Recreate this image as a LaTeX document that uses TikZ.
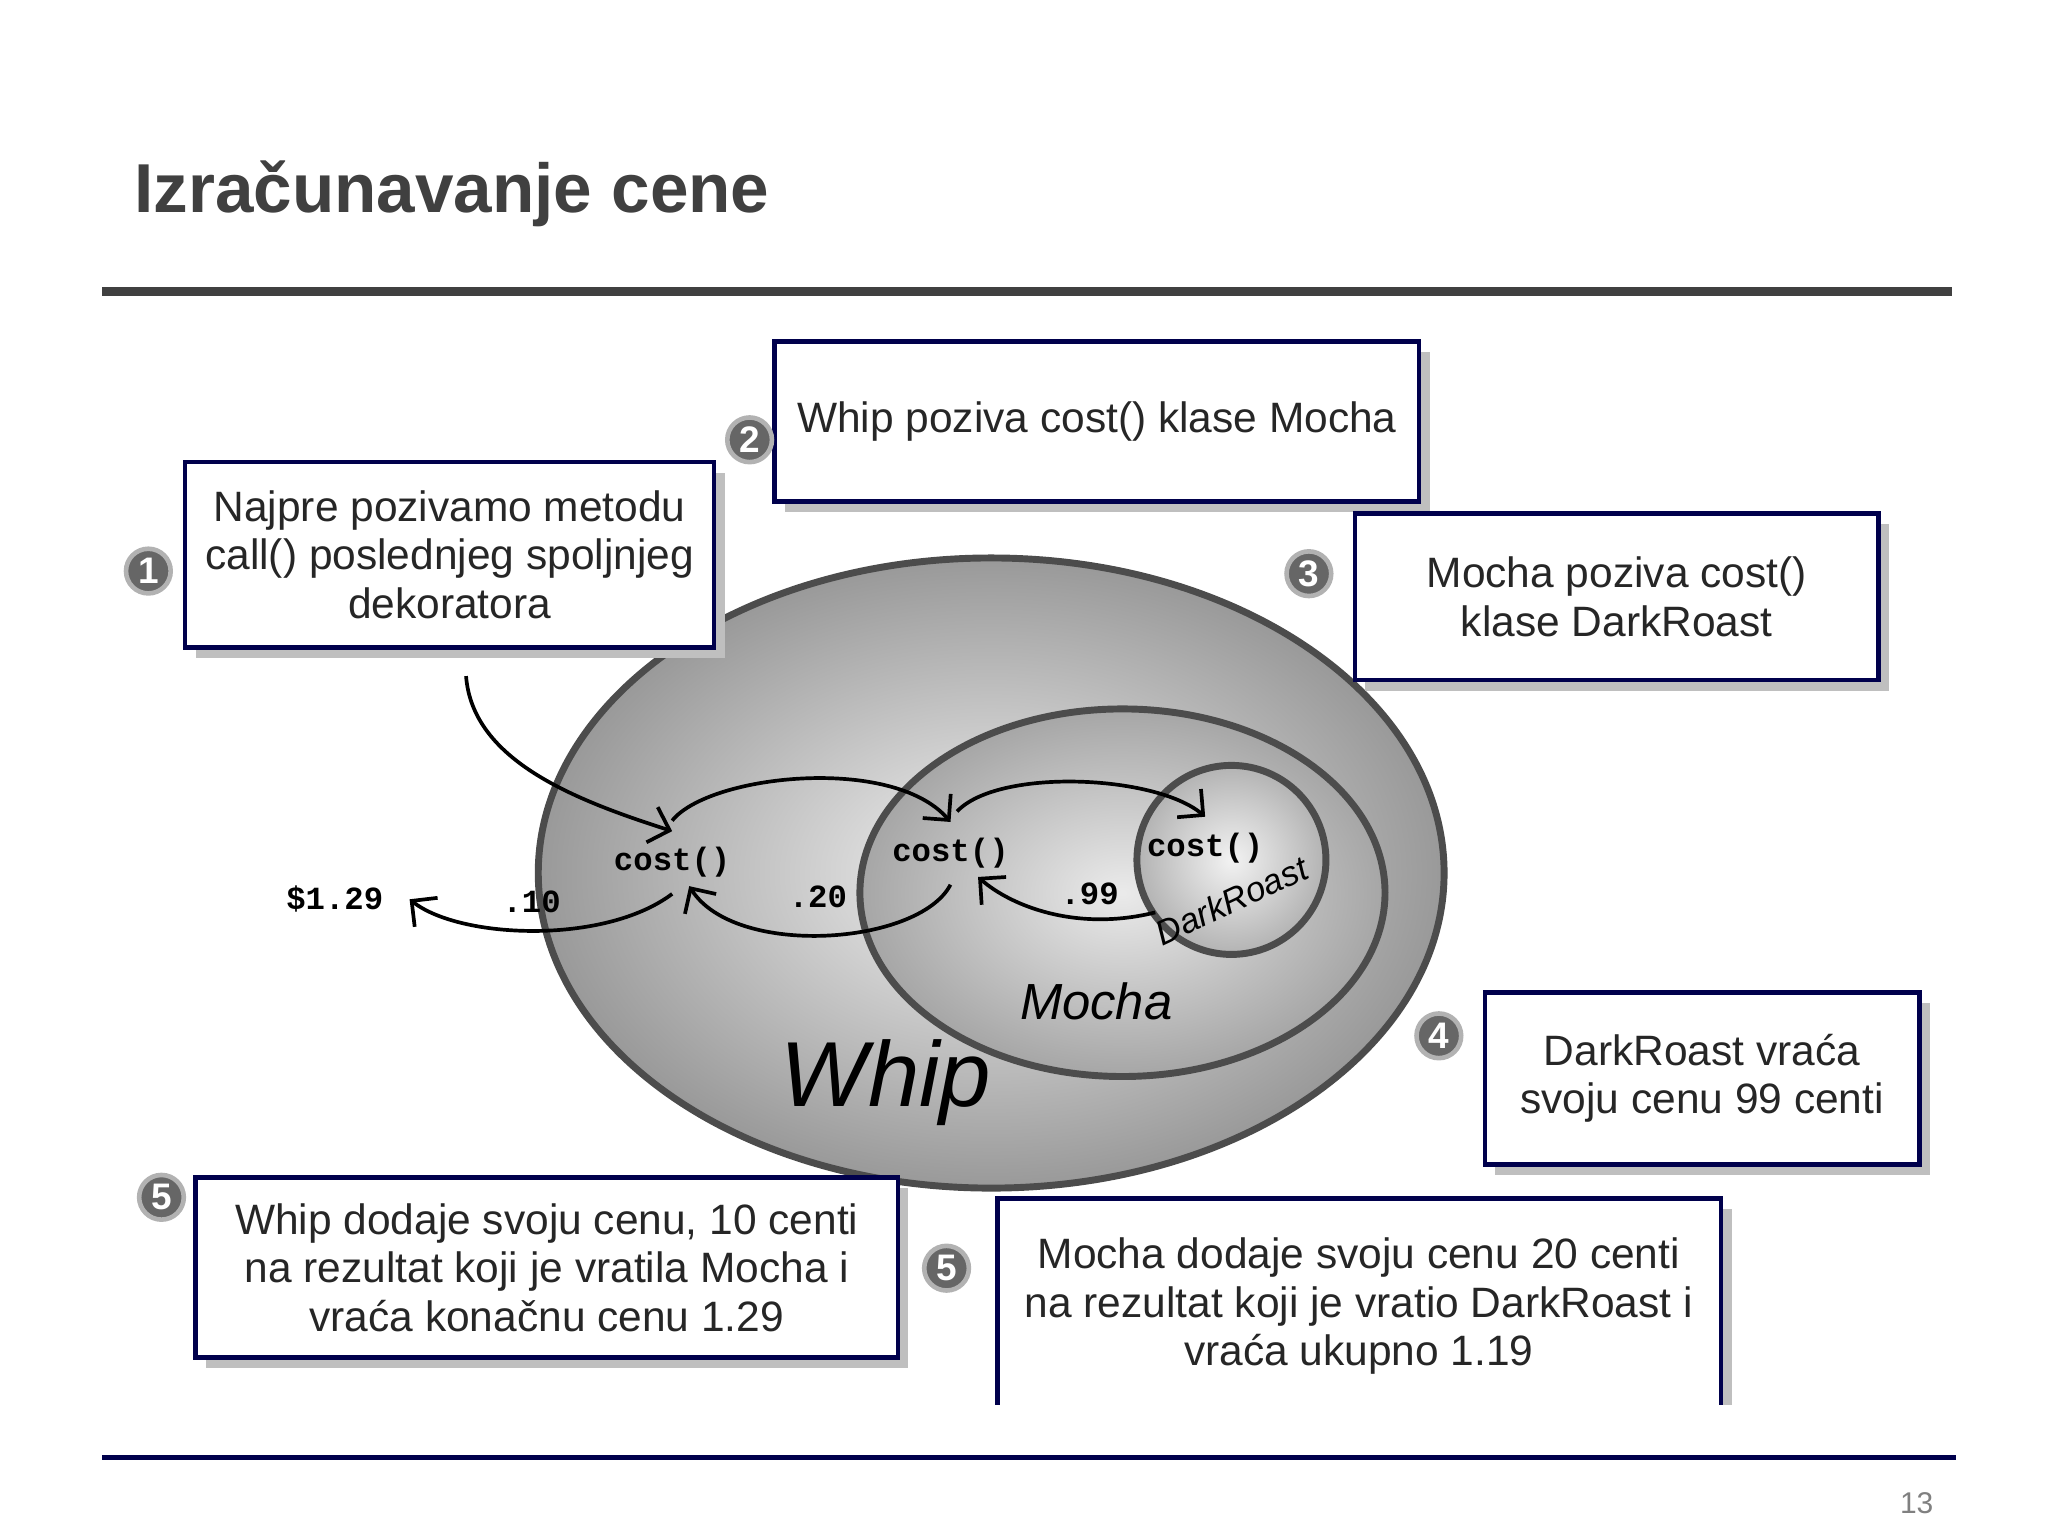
\documentclass[tikz,border=0pt]{standalone}
\usepackage{fontspec}
\setmainfont{Liberation Sans}
\newfontfamily\monof{Liberation Mono}
\usetikzlibrary{arrows.meta}
\begin{document}
\begin{tikzpicture}[x=0.01cm,y=-0.01cm,
  box/.style={draw=blue!30!black,line width=1pt,fill=white},
  shadow/.style={fill=black!25},
  num/.style={circle,fill=black!60,draw=black!30,line width=1pt,text=white,font=\bfseries\fontsize{8}{8}\selectfont,minimum size=0.34cm,inner sep=0pt},
  btxt/.style={font=\fontsize{9.2}{10.5}\selectfont,align=center,text=black!85},
  ct/.style={font=\monof\bfseries\fontsize{7}{7}\selectfont},
  arr/.style={-{Straight Barb[length=4pt]},line width=0.8pt}]
\useasboundingbox (0,0) rectangle (1560,1170);
% title and rules
\node[anchor=west,font=\bfseries\fontsize{15}{15}\selectfont,text=black!75] (title) at (90,148) {Izračunavanje cene};
\draw[line width=2pt,black!75] (78,222) -- (1487,222);
\draw[line width=1pt,blue!30!black] (78,1110) -- (1490,1110);
\node[font=\fontsize{6.5}{6.5}\selectfont,text=black!50] (pg) at (1460,1145) {13};
% ellipses
\shade[inner color=black!5,outer color=black!40,draw=black!70,line width=1.5pt] (755,665) ellipse (345 and 240);
\shade[inner color=black!8,outer color=black!35,draw=black!70,line width=1.5pt] (855,680) ellipse (200 and 140);
\shade[inner color=black!5,outer color=black!30,draw=black!70,line width=1.5pt] (938,655) circle (72);
\node[font=\itshape\fontsize{20}{20}\selectfont] (whip) at (675,825) {Whip};
\node[font=\itshape\fontsize{11}{11}\selectfont] (mocha) at (835,763) {Mocha};
\node[font=\itshape\fontsize{7.5}{7.5}\selectfont,rotate=25] (dr) at (938,686) {DarkRoast};
% costs
\node[ct] (c1) at (512,657) {cost()};
\node[ct] (c2) at (724,650) {cost()};
\node[ct] (c3) at (918,646) {cost()};
\node[ct] (p129) at (255,685) {\$1.29};
\node[ct] (p10) at (405,687) {.10};
\node[ct] (p20) at (623,683) {.20};
\node[ct] (p99) at (830,681) {.99};
\coordinate (s1) at (355,515);
\coordinate (r3) at (880,695);
\draw[arr] (s1) .. controls (360,580) and (440,610) .. (c1.north);
\draw[arr] (c1.north) ++(0,-8) .. controls (540,590) and (680,575) .. (c2.north);
\draw[arr] (c2.north) ++(5,-8) .. controls (760,585) and (880,590) .. (c3.north);
\draw[arr] (r3) .. controls (820,710) and (770,690) .. (745,668);
\draw[arr] (c2.south) .. controls (700,720) and (560,730) .. (525,675);
\draw[arr] (c1.south) .. controls (460,720) and (350,715) .. (312,685);
% boxes
\newcommand{\mybox}[6]{%
 \fill[shadow] (#1+8,#2+8) rectangle (#3+8,#4+8);
 \draw[box] (#1,#2) rectangle (#3,#4);
 \node[btxt] (#5) at ({(#1+#3)/2},{(#2+#4)/2}) {#6};}
\mybox{590}{260}{1081}{382}{b2}{Whip poziva cost() klase Mocha}
\mybox{141}{352}{544}{493}{b1}{Najpre pozivamo metodu\\call() poslednjeg spoljnjeg\\dekoratora}
\mybox{1032}{391}{1431}{518}{b3}{Mocha poziva cost()\\klase DarkRoast}
\mybox{1131}{756}{1462}{887}{b4}{DarkRoast vraća\\svoju cenu 99 centi}
\mybox{149}{897}{684}{1034}{b5}{Whip dodaje svoju cenu, 10 centi\\na rezultat koji je vratila Mocha i\\vraća konačnu cenu 1.29}
\fill[shadow] (1311,921) rectangle (1319,1070);
\fill[white] (760,913) rectangle (1311,1070);
\draw[blue!30!black,line width=1pt] (760,1070) -- (760,913) -- (1311,913) -- (1311,1070);
\node[btxt] (b6) at (1035,995) {Mocha dodaje svoju cenu 20 centi\\na rezultat koji je vratio DarkRoast i\\vraća ukupno 1.19};
% numbers
\node[num] (n1) at (113,435) {1};
\node[num] (n2) at (571,335) {2};
\node[num] (n3) at (997,437) {3};
\node[num] (n4) at (1096,789) {4};
\node[num] (n5) at (123,912) {5};
\node[num] (n6) at (721,966) {5};
\end{tikzpicture}
\end{document}
